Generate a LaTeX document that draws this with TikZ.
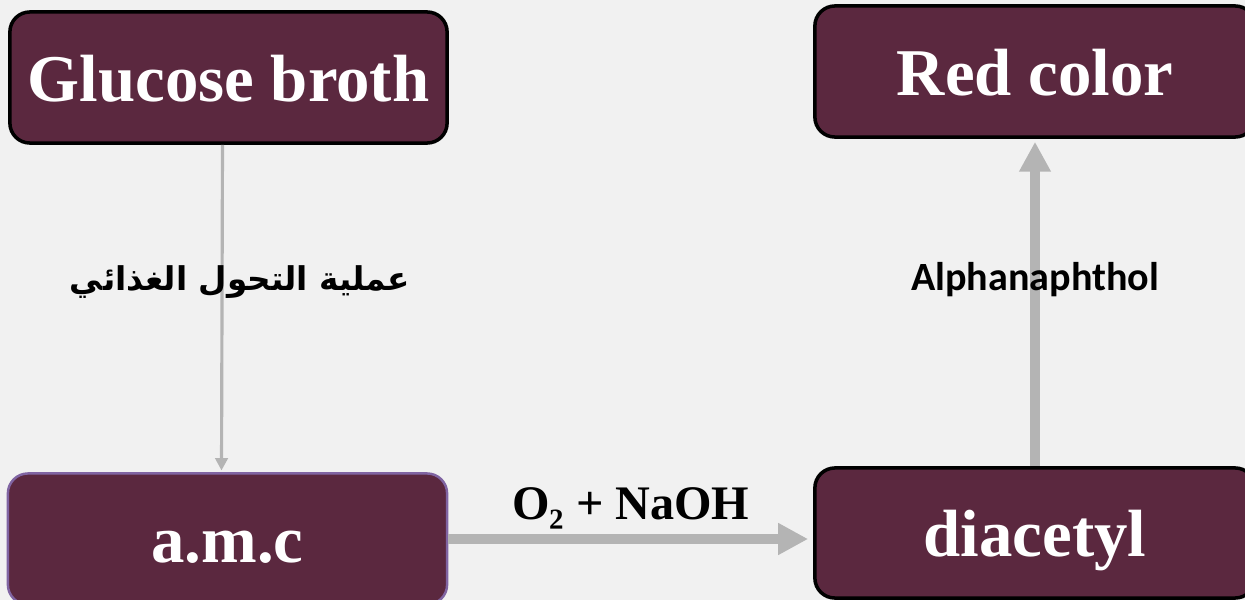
\documentclass[tikz,border=0pt]{standalone}
\usepackage{fontspec}
\setmainfont{Liberation Serif}
\newfontfamily\arabicfont[Script=Arabic]{DejaVu Sans}
\newfontfamily\labelfont{Carlito}
\TeXXeTstate=1
\usetikzlibrary{arrows.meta}
\definecolor{boxfill}{RGB}{91,40,63}
\definecolor{bggray}{RGB}{241,241,241}
\definecolor{flowgray}{RGB}{180,180,180}
\definecolor{amcedge}{RGB}{128,100,162}
\tikzset{
    stagebox/.style={draw=black, line width=1pt, fill=boxfill, rounded corners=0.2cm,
        minimum width=4.37cm, minimum height=1.31cm, text=white,
        font=\fontsize{19}{23}\selectfont\bfseries,
        text height=15.5pt, text depth=2pt},
    thinflow/.style={draw=flowgray, line width=0.9pt,
        -{Triangle[width=3.5pt,length=3.5pt]}},
    thickflow/.style={draw=flowgray, line width=2.85pt,
        -{Triangle[width=8.5pt,length=8.5pt]}},
}

\begin{document}
\begin{tikzpicture}[x=0.01cm, y=-0.01cm]

        \useasboundingbox (0,0) rectangle (1245,600);
        \fill[bggray] (0,0) rectangle (1245,600);

        \node[stagebox] (broth) at (228.5,77.5) {Glucose broth};
        \node[stagebox, minimum width=4.4cm] (red) at (1035,71.5) {Red color};
        \node[stagebox, draw=amcedge, line width=0.7pt, minimum width=4.39cm] (amc) at (227.5,539) {a.m.c};
        \node[stagebox, minimum width=4.4cm, minimum height=1.3cm] (diacetyl) at (1035,533) {diacetyl};

        \draw[thinflow, shorten >=0.5pt] ([xshift=-0.06cm]broth.south) -- ([xshift=-0.06cm]amc.north)
            node[pos=0.42, xshift=0.18cm, font=\fontsize{9.3}{11}\selectfont\bfseries] (metab)
                {\arabicfont\beginR عملية التحول الغذائي\endR};

        \draw[thickflow, shorten >=0.05cm] (amc.east) -- (amc.east -| diacetyl.west)
            node[midway, above=-0.07cm, font=\fontsize{13.7}{16}\selectfont\bfseries] (reagent)
                {O₂ + NaOH};

        \draw[thickflow, shorten >=0.03cm] (diacetyl.north) -- (red.south)
            node[pos=0.57, font=\labelfont\fontsize{11.4}{13}\selectfont\bfseries] (naphthol)
                {Alphanaphthol};

\end{tikzpicture}
\end{document}
